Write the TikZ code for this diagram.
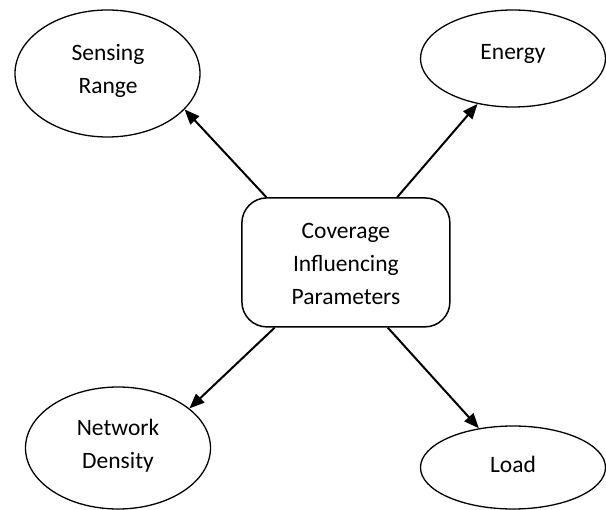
\documentclass[tikz,border=0pt]{standalone}
\usepackage{fontspec}
\setmainfont{Carlito}
\usetikzlibrary{shapes.geometric,arrows.meta,calc}
\begin{document}
\begin{tikzpicture}[x=1pt,y=-1pt,
  oval/.style={draw,ellipse,line width=1.3pt,inner sep=0pt},
  lbl/.style={align=center,font=\fontsize{23.5}{33}\selectfont},
  hub/.style={draw,rounded corners=25pt,line width=1.5pt,minimum width=208pt,minimum height=129pt,inner sep=0pt},
  arr/.style={line width=2pt,-{Triangle[length=15pt,width=12pt]}}]
\useasboundingbox (0,0) rectangle (606,510);
% outer ellipses
\node[oval,minimum width=185pt,minimum height=127pt] (se) at (107.5,73.5) {};
\node[lbl] (set) at (108,71) {Sensing\\Range};
\node[oval,minimum width=185pt,minimum height=97pt] (en) at (513,58.5) {};
\node[lbl] (ent) at (513,54) {Energy};
\node[oval,minimum width=185pt,minimum height=122pt] (nd) at (118,448) {};
\node[lbl] (ndt) at (118,446) {Network\\Density};
\node[oval,minimum width=185pt,minimum height=83pt] (lo) at (513,467.5) {};
\node[lbl] (lot) at (513,464) {Load};
% hub
\node[hub] (c) at (345.9,262.4) {};
\node[lbl] (ct) at (345.9,264) {Coverage\\Influencing\\Parameters};
% arrows
\draw[arr] ($(c.north west)!0.12!(c.north east)$) -- (se.-25.4);
\draw[arr] ($(c.north west)!0.745!(c.north east)$) -- (en.232);
\draw[arr] ($(c.south west)!0.16!(c.south east)$) -- (nd.29.7);
\draw[arr] ($(c.south west)!0.70!(c.south east)$) -- (lo.131.6);
\end{tikzpicture}
\end{document}
